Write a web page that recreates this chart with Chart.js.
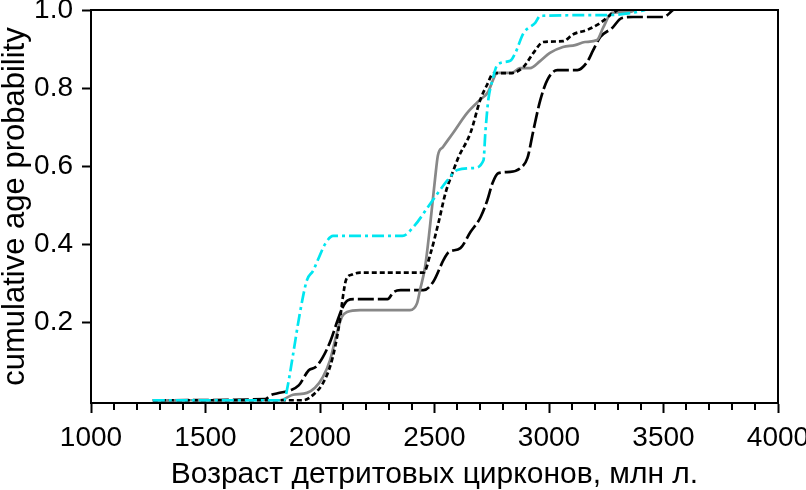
<!DOCTYPE html>
<html>
<head>
<meta charset="utf-8">
<script src="https://cdn.jsdelivr.net/npm/chart.js@4.4.1/dist/chart.umd.min.js"></script>
<style>
  html, body { margin: 0; padding: 0; background: #fff; }
  #wrap { width: 806px; height: 490px; }
</style>
</head>
<body>
<div id="wrap"><canvas id="cdfChart" width="806" height="490"></canvas></div>
<script>
// age values (Ma) and cumulative probability for each sample curve
const cyanAge = [1270, 1843, 1860, 1882, 1913, 1943, 1969, 1991, 2022, 2057, 2360, 2408, 2483, 2557, 2600, 2670, 2714, 2722, 2735, 2753, 2775, 2831, 2853, 2888, 2940, 2962, 3254, 3368, 3420];
const cyanProb = [0, 0, 0.04, 0.116, 0.226, 0.308, 0.331, 0.36, 0.4, 0.421, 0.421, 0.444, 0.505, 0.564, 0.59, 0.595, 0.615, 0.685, 0.77, 0.82, 0.86, 0.87, 0.89, 0.94, 0.967, 0.985, 0.987, 0.993, 1.0];

const dotAge = [1270, 1925, 1978, 2013, 2044, 2066, 2087, 2100, 2114, 2140, 2175, 2452, 2483, 2517, 2548, 2578, 2605, 2657, 2700, 2731, 2757, 2831, 2888, 2932, 2975, 3062, 3106, 3167, 3224, 3267, 3300];
const dotProb = [0, 0, 0.018, 0.044, 0.086, 0.137, 0.206, 0.265, 0.309, 0.322, 0.327, 0.327, 0.377, 0.454, 0.531, 0.582, 0.623, 0.685, 0.77, 0.81, 0.838, 0.838, 0.854, 0.89, 0.918, 0.92, 0.938, 0.949, 0.967, 0.987, 1.0];

const grayAge = [1270, 1825, 1882, 1943, 1978, 2013, 2044, 2074, 2096, 2118, 2175, 2393, 2424, 2437, 2459, 2480, 2502, 2515, 2537, 2581, 2642, 2699, 2734, 2755, 2773, 2838, 2873, 2917, 2961, 3004, 3061, 3114, 3157, 3210, 3236, 3275, 3354, 3376];
const grayProb = [0, 0, 0.014, 0.019, 0.032, 0.06, 0.103, 0.173, 0.214, 0.226, 0.231, 0.231, 0.249, 0.283, 0.342, 0.444, 0.565, 0.628, 0.649, 0.685, 0.736, 0.77, 0.79, 0.82, 0.839, 0.839, 0.851, 0.851, 0.869, 0.89, 0.905, 0.91, 0.918, 0.923, 0.954, 0.993, 0.995, 1.0];

const dashAge = [1270, 1760, 1785, 1815, 1872, 1907, 1951, 1981, 2012, 2047, 2077, 2099, 2121, 2147, 2295, 2321, 2352, 2452, 2496, 2539, 2561, 2613, 2657, 2701, 2731, 2753, 2779, 2831, 2875, 2906, 2932, 2962, 2993, 3036, 3124, 3167, 3193, 3224, 3276, 3316, 3368, 3499, 3542];
const dashProb = [0, 0.003, 0.013, 0.018, 0.026, 0.038, 0.077, 0.085, 0.11, 0.154, 0.205, 0.238, 0.256, 0.259, 0.259, 0.277, 0.282, 0.282, 0.305, 0.359, 0.379, 0.39, 0.431, 0.469, 0.513, 0.556, 0.582, 0.585, 0.595, 0.621, 0.692, 0.769, 0.821, 0.846, 0.846, 0.867, 0.897, 0.931, 0.954, 0.979, 0.982, 0.982, 1.0];

const yTicks = [0.2, 0.4, 0.6, 0.8, 1.0];
const xLabelStep = 500;
const xMinorStep = 100;

const toPoints = (xs, ys) => xs.map((x, i) => ({ x: x, y: ys[i] }));

const fontFamily = "'Liberation Sans', Arial, sans-serif";
const tickFont = { family: fontFamily, size: 28, lineHeight: 1 };

// frame on top/right plus minor ticks on the x axis
const frameAndTicks = {
    id: "frameAndTicks",
    afterDraw(chart) {
        const { ctx, chartArea } = chart;
        const xs = chart.scales.x;
        ctx.save();
        ctx.strokeStyle = "#000";
        ctx.lineWidth = 2;
        ctx.beginPath();
        ctx.moveTo(chartArea.left, chartArea.top);
        ctx.lineTo(chartArea.right, chartArea.top);
        ctx.lineTo(chartArea.right, chartArea.bottom);
        ctx.stroke();
        ctx.beginPath();
        for (let v = xs.min; v <= xs.max; v += xMinorStep) {
            if (v % xLabelStep === 0) continue;
            const px = Math.round(xs.getPixelForValue(v));
            ctx.moveTo(px, chartArea.bottom);
            ctx.lineTo(px, chartArea.bottom + 7);
        }
        ctx.stroke();
        ctx.restore();
    }
};

const common = { pointRadius: 0, borderWidth: 2.7, fill: false, cubicInterpolationMode: "monotone" };

new Chart(document.getElementById("cdfChart").getContext("2d"), {
    type: "line",
    data: {
        datasets: [
            Object.assign({ label: "cyan", data: toPoints(cyanAge, cyanProb), borderColor: "#00E6F0", borderDash: [12, 4, 3, 4] }, common),
            Object.assign({ label: "dotted", data: toPoints(dotAge, dotProb), borderColor: "#000", borderDash: [5, 3] }, common),
            Object.assign({ label: "gray", data: toPoints(grayAge, grayProb), borderColor: "#888" }, common),
            Object.assign({ label: "dashed", data: toPoints(dashAge, dashProb), borderColor: "#000", borderDash: [16, 4] }, common)
        ]
    },
    options: {
        responsive: false,
        animation: false,
        devicePixelRatio: 1,
        layout: { padding: { top: 10, right: 28, left: 0, bottom: 0 } },
        plugins: { legend: { display: false }, tooltip: { enabled: false } },
        scales: {
            x: {
                type: "linear",
                min: 1000,
                max: 4000,
                ticks: { stepSize: xLabelStep, color: "#000", font: tickFont, padding: 11, maxRotation: 0, callback: v => String(v) },
                grid: { drawOnChartArea: false, drawTicks: true, tickLength: 10, tickWidth: 2, tickColor: "#000" },
                border: { display: true, color: "#000", width: 2 },
                title: {
                    display: true,
                    text: "Возраст детритовых цирконов, млн л.",
                    color: "#000",
                    font: { family: fontFamily, size: 30, lineHeight: 1 },
                    padding: { top: 0, bottom: 0 }
                },
                afterFit(scale) {
                    scale.height = 87;
                    scale.paddingLeft = 0;
                    scale.paddingRight = 0;
                }
            },
            y: {
                type: "linear",
                min: -0.007,
                max: 1.0,
                afterBuildTicks(scale) {
                    scale.ticks = yTicks.map(v => ({ value: v }));
                },
                ticks: { color: "#000", font: tickFont, padding: 9, callback: v => v.toFixed(1) },
                grid: { drawOnChartArea: false, drawTicks: true, tickLength: 9, tickWidth: 2, tickColor: "#000" },
                border: { display: true, color: "#000", width: 2 },
                title: {
                    display: true,
                    text: "cumulative age probability",
                    color: "#000",
                    font: { family: fontFamily, size: 31, lineHeight: 1 },
                    padding: { top: 0, bottom: 0 }
                },
                afterFit(scale) {
                    scale.width = 91;
                    scale.paddingTop = 0;
                    scale.paddingBottom = 0;
                }
            }
        }
    },
    plugins: [frameAndTicks]
});
</script>
</body>
</html>
